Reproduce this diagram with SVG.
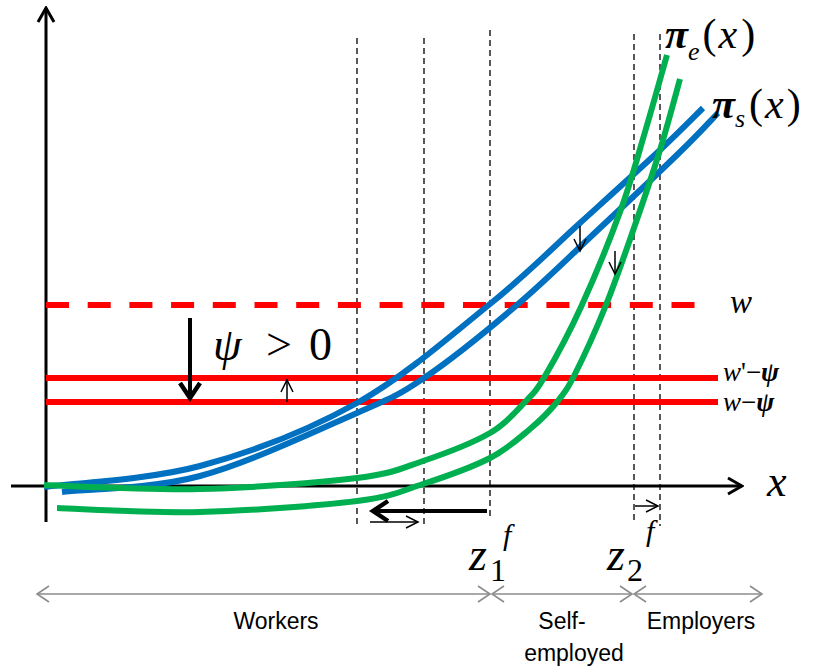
<svg xmlns="http://www.w3.org/2000/svg" width="813" height="672" viewBox="0 0 813 672">
<style>
.ax{stroke:#000;stroke-width:3;fill:none}
.dash{stroke:#000;stroke-width:1.3;stroke-dasharray:6 4;fill:none}
.red{stroke:#FF0000;stroke-width:6;fill:none}
.blue{stroke:#0070C0;stroke-width:6;fill:none;stroke-linecap:butt}
.green{stroke:#00B050;stroke-width:6;fill:none;stroke-linecap:butt}
.thin{stroke:#000;stroke-width:1.5;fill:none}
.thick{stroke:#000;stroke-width:4;fill:none}
.grey{stroke:#8C8C8C;stroke-width:1.6;fill:none}
.m{font-family:'Liberation Serif','Times New Roman',serif;fill:#000}
.i{font-style:italic}
.lab{font-family:'Liberation Sans',Arial,sans-serif;font-size:23px;fill:#000;text-anchor:middle}
</style>
<defs>
<marker id="axh" viewBox="-16 -10 18 20" refX="0" refY="0" markerWidth="18" markerHeight="20" markerUnits="userSpaceOnUse" orient="auto"><path d="M-14,-8 L0,0 L-14,8" fill="none" stroke="#000" stroke-width="3"/></marker>
<marker id="th" viewBox="-14 -8 16 16" refX="0" refY="0" markerWidth="16" markerHeight="16" markerUnits="userSpaceOnUse" orient="auto"><path d="M-12,-6 L0,0 L-12,6" fill="none" stroke="#000" stroke-width="1.5"/></marker>
<marker id="tk" viewBox="-20 -14 24 28" refX="0" refY="0" markerWidth="24" markerHeight="28" markerUnits="userSpaceOnUse" orient="auto"><path d="M-16,-10 L-1,0 L-16,10" fill="none" stroke="#000" stroke-width="4.5"/></marker>
<marker id="gh" viewBox="-14 -10 16 20" refX="0" refY="0" markerWidth="16" markerHeight="20" markerUnits="userSpaceOnUse" orient="auto-start-reverse"><path d="M-12,-8 L0,0 L-12,8" fill="none" stroke="#8C8C8C" stroke-width="1.6"/></marker>
</defs>

<g id="axes">
<line class="ax" x1="46" y1="522" x2="46" y2="8" marker-end="url(#axh)"/>
<line class="ax" x1="11" y1="486" x2="742" y2="486" marker-end="url(#axh)"/>
<text class="m i" x="767" y="496" font-size="44">x</text>
</g>

<g id="guides">
<line class="dash" x1="357" y1="38" x2="357" y2="526"/>
<line class="dash" x1="424" y1="38" x2="424" y2="526"/>
<line class="dash" x1="490" y1="30" x2="490" y2="518"/>
<line class="dash" x1="634" y1="34" x2="634" y2="524"/>
<line class="dash" x1="660" y1="34" x2="660" y2="526"/>
</g>

<g id="wages">
<line class="red" x1="46" y1="305" x2="702" y2="305" stroke-dasharray="23 18.7"/>
<line class="red" x1="46" y1="378" x2="718" y2="378"/>
<line class="red" x1="46" y1="402" x2="718" y2="402"/>
<text class="m i" x="730" y="313" font-size="33">w</text>
<text class="m" x="723" y="381" font-size="27"><tspan class="i">w</tspan>'−<tspan class="i" font-weight="bold">ψ</tspan></text>
<text class="m" x="723" y="411" font-size="27"><tspan class="i">w</tspan>−<tspan class="i" font-weight="bold">ψ</tspan></text>
</g>

<g id="pi-s">
<path class="blue" d="M44,487 C70,483.5 147.8,480 200,466 C252.2,452 308.7,430 357,403 C405.3,376 452.8,334 490,304 C527.2,274 551.7,248.7 580,223 C608.3,197.3 639.5,169.2 660,150 C680.5,130.8 695.8,115 703,108"/>
<path class="blue" d="M62,492 C85,489.3 150.8,489.2 200,476 C249.2,462.8 319.7,429.3 357,413 C394.3,396.7 397.3,396 424,378 C450.7,360 487.7,330 517,305 C546.3,280 572.8,253.5 600,228 C627.2,202.5 660.3,171.2 680,152 C699.7,132.8 711.7,119.5 718,113"/>
<text class="m" x="712" y="118" font-size="42"><tspan class="i" font-weight="bold">π</tspan><tspan class="i" font-size="26" dy="9">s</tspan><tspan dy="-9" dx="4">(</tspan><tspan class="i" dx="2">x</tspan><tspan dx="3">)</tspan></text>
</g>

<g id="pi-e">
<path class="green" d="M44,485 C70,485.7 147.8,490.2 200,489 C252.2,487.8 319.8,482.7 357,478 C394.2,473.3 400.8,468.5 423,461 C445.2,453.5 473,442.8 490,433 C507,423.2 515.8,411.5 525,402 C534.2,392.5 535.7,391.8 545,376 C554.3,360.2 568.5,334.3 581,307 C593.5,279.7 609.3,241.2 620,212 C630.7,182.8 637.2,158.2 645,132 C652.8,105.8 663.3,67.8 667,55"/>
<path class="green" d="M57,508 C80.8,508.7 150,513.2 200,512 C250,510.8 319.8,505.7 357,501 C394.2,496.3 400.8,491.2 423,484 C445.2,476.8 472.2,467.2 490,458 C507.8,448.8 518.8,438.3 530,429 C541.2,419.7 549.5,411.2 557,402 C564.5,392.8 566.8,390.2 575,374 C583.2,357.8 596,329.8 606,305 C616,280.2 626,250.8 635,225 C644,199.2 652.5,174.3 660,150 C667.5,125.7 676.7,90.8 680,79"/>
<text class="m" x="665" y="48" font-size="42"><tspan class="i" font-weight="bold">π</tspan><tspan class="i" font-size="26" dy="12">e</tspan><tspan dy="-12" dx="3">(</tspan><tspan class="i" dx="2">x</tspan><tspan dx="4">)</tspan></text>
</g>

<g id="shifts">
<line class="thick" x1="190" y1="318" x2="190" y2="399" marker-end="url(#tk)"/>
<line class="thin" x1="287" y1="402" x2="287" y2="380" marker-end="url(#th)"/>
<line class="thin" x1="580" y1="226" x2="580" y2="251" marker-end="url(#th)"/>
<line class="thin" x1="615" y1="251" x2="615" y2="274" marker-end="url(#th)"/>
<line class="thick" x1="487" y1="511" x2="372" y2="511" marker-end="url(#tk)"/>
<line class="thin" x1="370" y1="522" x2="418" y2="522" marker-end="url(#th)"/>
<line class="thin" x1="635" y1="506" x2="658" y2="506" marker-end="url(#th)"/>
<text class="m" font-size="46"><tspan class="i" x="213" y="360">ψ</tspan><tspan x="266" y="360">&gt;</tspan><tspan x="309" y="360">0</tspan></text>
</g>

<g id="thresholds">
<text class="m" font-size="46"><tspan class="i" x="469" y="570">z</tspan><tspan x="490" y="581" font-size="32">1</tspan><tspan class="i" x="503" y="545" font-size="30">f</tspan></text>
<text class="m" font-size="46"><tspan class="i" x="607" y="570">z</tspan><tspan x="627" y="581" font-size="32">2</tspan><tspan class="i" x="646" y="541" font-size="30">f</tspan></text>
</g>

<g id="groups">
<line class="grey" x1="37" y1="594" x2="490" y2="594" marker-start="url(#gh)" marker-end="url(#gh)"/>
<line class="grey" x1="492" y1="594" x2="632" y2="594" marker-start="url(#gh)" marker-end="url(#gh)"/>
<line class="grey" x1="634" y1="594" x2="762" y2="594" marker-start="url(#gh)" marker-end="url(#gh)"/>
<text class="lab" x="276" y="629">Workers</text>
<text class="lab" x="562" y="629">Self-</text>
<text class="lab" x="574" y="661">employed</text>
<text class="lab" x="701" y="629">Employers</text>
</g>
</svg>
